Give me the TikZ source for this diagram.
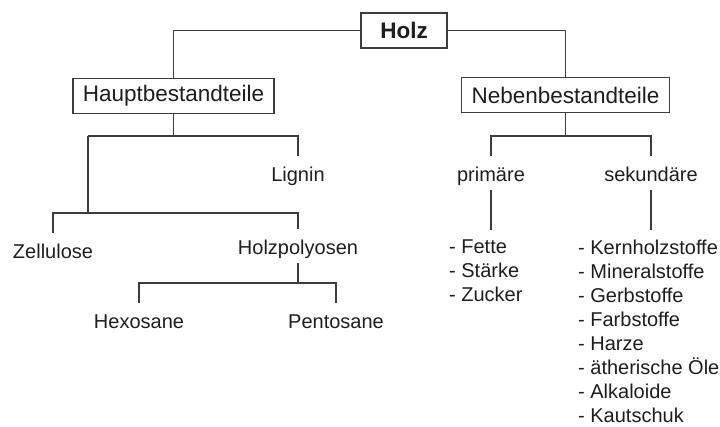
\documentclass[tikz,border=0pt]{standalone}
\usepackage{fontspec}
\setmainfont{Liberation Sans}
\begin{document}
\begin{tikzpicture}[x=1pt,y=-1pt,
  link/.style={draw=linegray,line width=1.6pt},
  tip/.style={shorten >=10pt},
  tail/.style={shorten <=5pt},
  boxnode/.style={draw=linegray,line width=1.6pt,fill=white,text=ink,
    font=\fontsize{22.5}{26}\selectfont,minimum height=35pt,inner xsep=10pt,inner ysep=0pt},
  label/.style={text=ink,font=\fontsize{20}{24}\selectfont,inner sep=0pt,
    text height=14.5pt,text depth=4pt,anchor=base},
  listtxt/.style={text=ink,font=\fontsize{20}{24}\selectfont,inner sep=0pt,
    align=left,anchor=north west}]
\definecolor{linegray}{HTML}{3C3C3C}
\definecolor{ink}{HTML}{1E1E1E}
\path[use as bounding box] (0,0) rectangle (720,426);

% top level
\node[boxnode,minimum width=86pt,font=\fontsize{22.5}{26}\selectfont\bfseries] (holz) at (404,30.5) {Holz};
\node[boxnode] (haupt) at (173.5,96) {Hauptbestandteile};
\node[boxnode] (neben) at (565.5,95) {Nebenbestandteile};

% main constituents
\node[label] (lignin) at (298,181) {Lignin};
\node[label] (zell) at (53,258) {Zellulose};
\node[label] (holzp) at (298,254) {Holzpolyosen};
\node[label] (hexo) at (139,328) {Hexosane};
\node[label] (pento) at (336,328) {Pentosane};

% minor constituents
\node[label] (prim) at (491,181) {primäre};
\node[label] (sek) at (651,181) {sekundäre};
\node[listtxt] (plist) at (449,240) {- Fette\\- Stärke\\- Zucker};
\node[listtxt] (slist) at (578,240) {- Kernholzstoffe\\- Mineralstoffe\\- Gerbstoffe\\- Farbstoffe\\- Harze\\- ätherische Öle\\- Alkaloide\\- Kautschuk};

% junction points
\coordinate (hj) at (88,136);
\coordinate (zj) at (88,213);
\coordinate (pj) at (298,283);
\coordinate (nj) at (565.5,136);

% connectors
\draw[link] (holz.west) -| (haupt.north);
\draw[link] (holz.east) -| (neben.north);

\draw[link] (haupt.south) |- (hj);
\draw[link,tip] (haupt.south |- hj) -| (lignin.north);
\draw[link] (hj) -- (zj);
\draw[link,tip] (zj) -| (zell.north);
\draw[link,tip] (zj) -| (holzp.north);

\draw[link,tail] (holzp.south) -- (pj);
\draw[link,tip] (pj) -| (hexo.north);
\draw[link,tip] (pj) -| (pento.north);

\draw[link] (neben.south) -- (nj);
\draw[link,tip] (nj) -| (prim.north);
\draw[link,tip] (nj) -| (sek.north);

\draw[link,tail,tip] (prim.south) -- (prim.south |- plist.north);
\draw[link,tail,tip] (sek.south) -- (sek.south |- slist.north);
\end{tikzpicture}
\end{document}
